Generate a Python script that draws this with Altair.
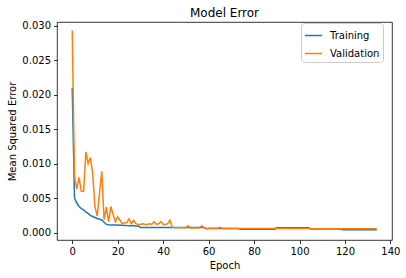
import altair as alt
import pandas as pd

epochs = list(range(135))

training = [
    0.0210, 0.0050, 0.0043, 0.0038, 0.0035, 0.0033, 0.0030, 0.0028, 0.0025, 0.00235,
    0.0022, 0.00205, 0.00195, 0.00185, 0.0015, 0.0012, 0.00115, 0.00112, 0.0011, 0.0011,
    0.0011, 0.00108, 0.00108, 0.00105, 0.00103, 0.00102, 0.0010, 0.0010, 0.00098, 0.00097,
    0.00076, 0.00075, 0.00075, 0.00075, 0.00075, 0.00075, 0.00075, 0.00075, 0.00075, 0.00075,
    0.00075, 0.00075, 0.00075, 0.00075, 0.00074, 0.00074, 0.00074, 0.00074, 0.00074, 0.00074,
    0.00074, 0.00074, 0.00074, 0.00074, 0.00074, 0.00074, 0.00074, 0.00074, 0.00074, 0.00060,
    0.00060, 0.00060, 0.00060, 0.00060, 0.00060, 0.00060, 0.00060, 0.00060, 0.00060, 0.00060,
    0.00060, 0.00060, 0.00060, 0.00060, 0.00050, 0.00050, 0.00050, 0.00050, 0.00050, 0.00050,
    0.00050, 0.00050, 0.00050, 0.00050, 0.00050, 0.00050, 0.00050, 0.00050, 0.00050, 0.00050,
    0.00071, 0.00071, 0.00071, 0.00071, 0.00071, 0.00071, 0.00071, 0.00071, 0.00071, 0.00071,
    0.00071, 0.00071, 0.00071, 0.00071, 0.00071, 0.00055, 0.00055, 0.00055, 0.00055, 0.00055,
    0.00055, 0.00055, 0.00055, 0.00055, 0.00055, 0.00055, 0.00055, 0.00055, 0.00055, 0.00043,
    0.00043, 0.00043, 0.00043, 0.00043, 0.00043, 0.00043, 0.00043, 0.00043, 0.00043, 0.00043,
    0.00043, 0.00043, 0.00043, 0.00043, 0.00043,
]

validation = [
    0.0293, 0.0081, 0.0063, 0.0080, 0.0060, 0.0060, 0.0117, 0.0100, 0.0109, 0.0086,
    0.0038, 0.0024, 0.0057, 0.0089, 0.0019, 0.0037, 0.0016, 0.0038, 0.0026, 0.0016,
    0.0023, 0.0018, 0.0013, 0.00145, 0.00145, 0.0020, 0.0013, 0.0018, 0.0013, 0.0012,
    0.0012, 0.0013, 0.0012, 0.0012, 0.0013, 0.0012, 0.0016, 0.0012, 0.0013, 0.0016,
    0.0012, 0.0012, 0.0013, 0.0018, 0.0008, 0.00073, 0.00072, 0.00073, 0.00072, 0.00072,
    0.00070, 0.0010, 0.00068, 0.00068, 0.00068, 0.00068, 0.00070, 0.0010, 0.00070, 0.00054,
    0.00064, 0.00064, 0.00064, 0.00064, 0.00064, 0.00078, 0.00062, 0.00062, 0.00062, 0.00062,
    0.00060, 0.00060, 0.00060, 0.00060, 0.00060, 0.00060, 0.00060, 0.00060, 0.00060, 0.00060,
    0.00060, 0.00060, 0.00060, 0.00060, 0.00060, 0.00060, 0.00060, 0.00060, 0.00060, 0.00060,
    0.00060, 0.00060, 0.00060, 0.00060, 0.00060, 0.00060, 0.00060, 0.00060, 0.00060, 0.00060,
    0.00060, 0.00060, 0.00060, 0.00060, 0.00060, 0.00058, 0.00058, 0.00058, 0.00058, 0.00058,
    0.00058, 0.00058, 0.00058, 0.00058, 0.00058, 0.00058, 0.00058, 0.00058, 0.00058, 0.00056,
    0.00056, 0.00056, 0.00056, 0.00056, 0.00056, 0.00056, 0.00056, 0.00056, 0.00056, 0.00056,
    0.00056, 0.00056, 0.00056, 0.00056, 0.00056,
]

series_names = ["Training", "Validation"]
series_colors = ["#1f77b4", "#ff7f0e"]
x_ticks = [0, 20, 40, 60, 80, 100, 120, 140]
y_ticks = [0.000, 0.005, 0.010, 0.015, 0.020, 0.025, 0.030]

rows = []
for e, v in zip(epochs, training):
    rows.append({"Epoch": e, "MSE": v, "Series": series_names[0], "order": 0})
for e, v in zip(epochs, validation):
    rows.append({"Epoch": e, "MSE": v, "Series": series_names[1], "order": 1})
df = pd.DataFrame(rows)

FONT = "DejaVu Sans"

chart = alt.Chart(df).mark_line(strokeWidth=1.5, clip=True).encode(
    x=alt.X("Epoch:Q",
            scale=alt.Scale(domain=[-6.7, 140.7], nice=False, zero=False),
            axis=alt.Axis(values=x_ticks, title="Epoch", grid=False, domain=False,
                          tickColor="black", tickSize=3.5, tickWidth=0.8,
                          labelColor="black", labelFontSize=10, labelFont=FONT,
                          labelPadding=3, titleFont=FONT, titleFontSize=10,
                          titleFontWeight="normal", titleColor="black", titlePadding=4)),
    y=alt.Y("MSE:Q",
            scale=alt.Scale(domain=[-0.00106, 0.03053], nice=False, zero=False),
            axis=alt.Axis(values=y_ticks, format=".3f", title="Mean Squared Error",
                          grid=False, domain=False, tickColor="black", tickSize=3.5,
                          tickWidth=0.8, labelColor="black", labelFontSize=10,
                          labelFont=FONT, labelPadding=3, titleFont=FONT,
                          titleFontSize=10, titleFontWeight="normal",
                          titleColor="black", titlePadding=4)),
    color=alt.Color("Series:N",
                    scale=alt.Scale(domain=series_names, range=series_colors),
                    legend=alt.Legend(title=None, orient="none", legendX=244, legendY=1,
                                      symbolType="stroke", symbolSize=300,
                                      symbolStrokeWidth=1.5, labelFont=FONT,
                                      labelFontSize=10, labelColor="black",
                                      fillColor="white", strokeColor="#cccccc",
                                      cornerRadius=3, padding=3, rowPadding=3,
                                      labelOffset=7)),
    order=alt.Order("order:Q"),
    detail="Series:N",
).properties(
    width=335,
    height=218,
    autosize=alt.AutoSizeParams(type="none"),
    padding={"left": 57, "top": 22, "right": 14, "bottom": 38},
    title=alt.TitleParams("Model Error", font=FONT, fontSize=12, fontWeight="normal",
                          color="black", anchor="middle", offset=1),
).configure_view(
    stroke="black", strokeWidth=0.8
)

chart.save("out.html", embed_options={"renderer": "svg", "actions": False})
